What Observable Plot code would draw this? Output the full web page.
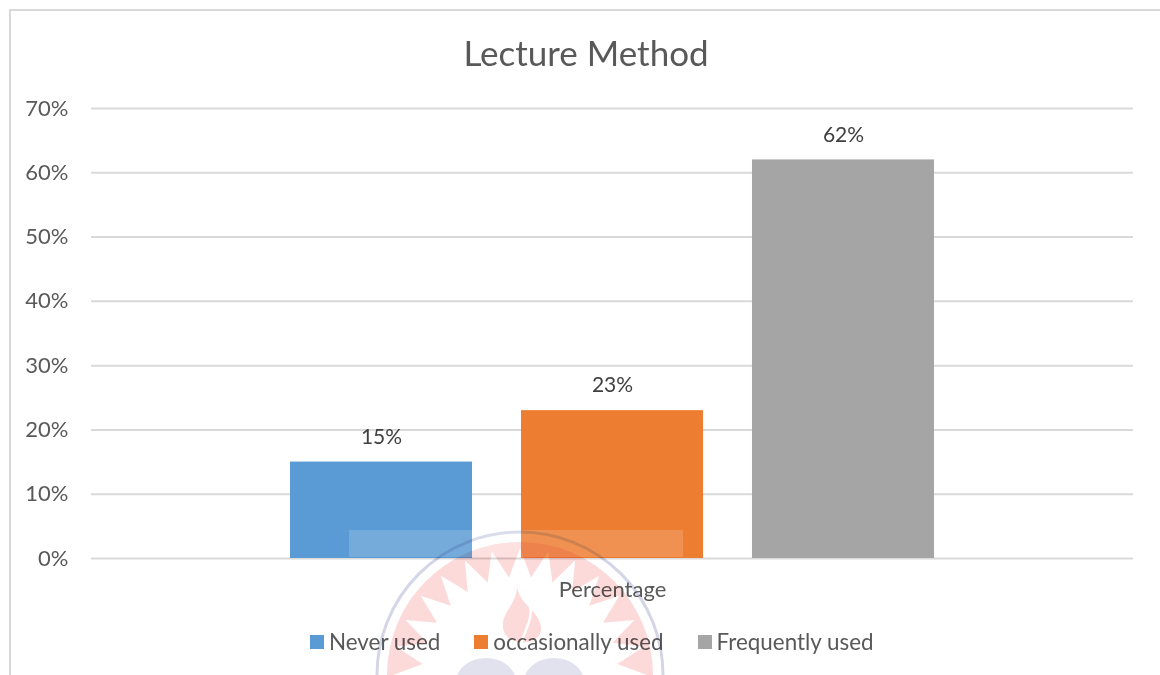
<!DOCTYPE html>
<html><head><meta charset="utf-8">
<script src="https://cdn.jsdelivr.net/npm/d3@7"></script>
<script src="https://cdn.jsdelivr.net/npm/@observablehq/plot@0.6"></script>
<style>
html,body{margin:0;padding:0;background:#fff;overflow:hidden}
#page{position:relative;width:1160px;height:675px;overflow:hidden;font-family:Lato,sans-serif;color:#595959}
#frame{position:absolute;left:9px;top:9px;width:1160px;height:700px;border:2px solid #d9d9d9;box-sizing:border-box}
#title{position:absolute;left:0;top:0;width:1172px;text-align:center;height:88px;line-height:105px;font-size:35px;box-sizing:border-box}
#chart{position:absolute;left:0;top:88px}
#legend{position:absolute;left:310px;top:628px;display:flex;gap:34px;font-size:22.4px;line-height:28px}
#legend .item{display:flex;align-items:center;gap:5px}
#legend .sw{width:14px;height:14px;display:inline-block}
#wm{position:absolute;left:0;top:0;mix-blend-mode:multiply;pointer-events:none}
</style></head>
<body><div id="page">
<div id="frame"></div>
<div id="title">Lecture Method</div>
<div id="chart"></div>
<div id="legend"></div>
</div>
<script>
const categories = ["Never used", "occasionally used", "Frequently used"];
const values = [15, 23, 62];
const colors = ["#5b9bd5", "#ed7d31", "#a5a5a5"];
const yTicks = [0, 10, 20, 30, 40, 50, 60, 70];
const groupLabel = "Percentage";
const rows = categories.map((c, i) => ({category: c, value: values[i], group: groupLabel}));

const plot = Plot.plot({
  width: 1160, height: 524,
  marginTop: 20, marginBottom: 54, marginLeft: 91, marginRight: 27,
  style: {fontFamily: "Lato, sans-serif", background: "transparent", color: "#595959", overflow: "visible"},
  y: {domain: [0, 70], ticks: yTicks, label: null},
  fx: {domain: [groupLabel], padding: 0, label: null, axis: null},
  x: {domain: categories, paddingInner: 0.212, paddingOuter: 0.8615, round: false, label: null, axis: null},
  color: {domain: categories, range: colors},
  marks: [
    Plot.ruleY(yTicks, {stroke: "#d9d9d9", strokeWidth: 2, strokeOpacity: 1}),
    Plot.axisY({ticks: yTicks, tickFormat: d => d + "%", tickSize: 0, tickPadding: 23, fontSize: 22, label: null, fill: "#595959"}),
    Plot.axisFx({anchor: "bottom", tickSize: 0, tickPadding: 23, fontSize: 22, label: null, fill: "#595959"}),
    Plot.barY(rows, {x: "category", y: "value", fx: "group", fill: "category"}),
    Plot.text(rows, {x: "category", y: "value", fx: "group", text: d => d.value + "%", dy: -25, fontSize: 21, fill: "#404040"})
  ]
});
document.getElementById("chart").appendChild(plot);

const legend = d3.select("#legend");
categories.forEach((c, i) => {
  const it = legend.append("div").attr("class", "item");
  it.append("span").attr("class", "sw").style("background", colors[i]);
  it.append("span").text(c);
});

// faint stamp showing through the page
const wm = d3.select("#page").append("svg").attr("id", "wm").attr("width", 1160).attr("height", 675);
const cx = 520, cy = 675;
wm.append("circle").attr("cx", cx).attr("cy", cy).attr("r", 133).attr("fill", "#fddada");
wm.append("circle").attr("cx", cx).attr("cy", cy).attr("r", 143).attr("fill", "none").attr("stroke", "#d4d6e8").attr("stroke-width", 3);
const pts = d3.range(0, 56).map(i => {
  const a = i / 56 * 2 * Math.PI, r = i % 2 ? 98 : 127;
  return [cx + r * Math.sin(a), cy - r * Math.cos(a)];
});
wm.append("polygon").attr("points", pts.join(" ")).attr("fill", "#fff");
wm.append("path").attr("fill", "#fddada").attr("d", "M517 587C520 606 542 612 541 630C540 646 506 648 503 628C501 612 516 606 517 587Z");
wm.append("path").attr("fill", "none").attr("stroke", "#fff").attr("stroke-width", 2.5).attr("d", "M530 606C534 622 520 635 521 650");
wm.append("ellipse").attr("cx", 486).attr("cy", 682).attr("rx", 30).attr("ry", 24).attr("fill", "#e2e2ee");
wm.append("ellipse").attr("cx", 554).attr("cy", 682).attr("rx", 30).attr("ry", 24).attr("fill", "#e2e2ee");

// pale band over the lower part of the first two bars
const band = d3.select("#page").append("div");
band.style("position", "absolute").style("left", "349px").style("top", "530px").style("width", "334px").style("height", "27px")
    .style("background", "rgba(255,255,255,0.16)");
</script>
</body></html>
